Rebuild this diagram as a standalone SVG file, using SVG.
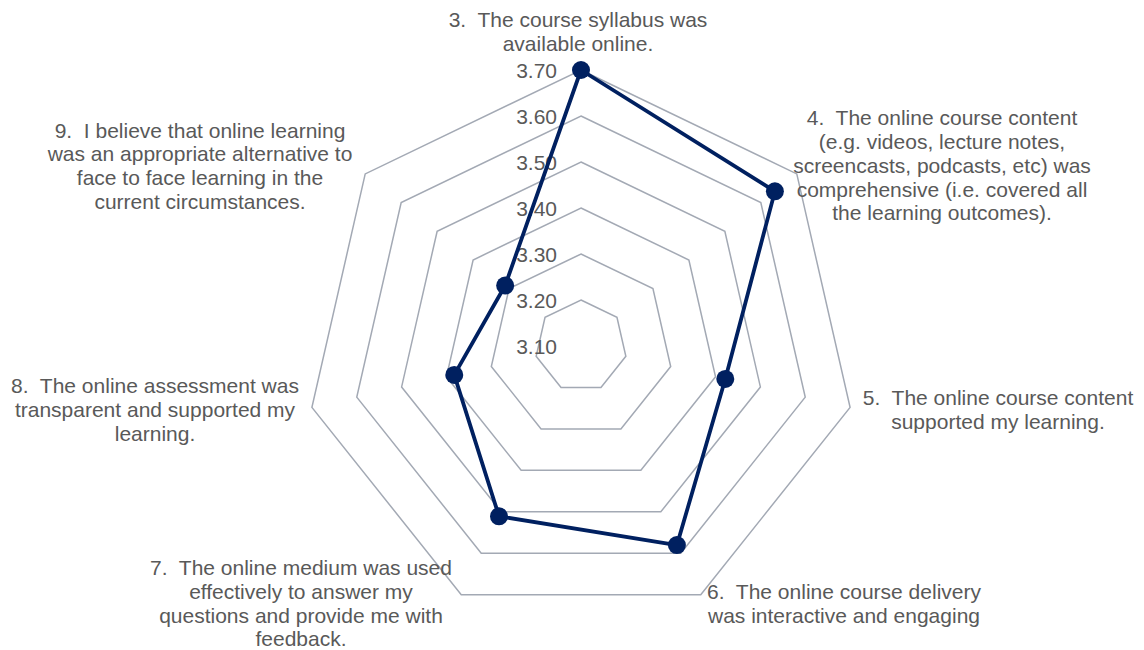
<svg xmlns="http://www.w3.org/2000/svg" width="1144" height="650" viewBox="0 0 1144 650">
<style>
.grid{fill:none;stroke:#a3a9b4;stroke-width:1.5;stroke-linejoin:miter}
.series{fill:none;stroke:#002060;stroke-width:3.8;stroke-linejoin:round}
.dot{fill:#002060}
.lbl{font-family:"Liberation Sans",Arial,sans-serif;font-size:21px;fill:#595959;text-anchor:middle}
.tick{font-family:"Liberation Sans",Arial,sans-serif;font-size:21px;fill:#595959;text-anchor:end}
</style>
<rect width="1144" height="650" fill="#ffffff"/>
<g id="grid">
<polygon class="grid" points="581,300 616.96,317.32 625.85,356.24 600.96,387.44 561.04,387.44 536.15,356.24 545.04,317.32"/>
<polygon class="grid" points="581,254 652.93,288.64 670.69,366.47 620.92,428.89 541.08,428.89 491.31,366.47 509.07,288.64"/>
<polygon class="grid" points="581,208 688.89,259.96 715.54,376.71 640.88,470.33 521.12,470.33 446.46,376.71 473.11,259.96"/>
<polygon class="grid" points="581,162 724.86,231.28 760.39,386.94 660.83,511.78 501.17,511.78 401.61,386.94 437.14,231.28"/>
<polygon class="grid" points="581,116 760.82,202.60 805.23,397.18 680.79,553.22 481.21,553.22 356.77,397.18 401.18,202.60"/>
<polygon class="grid" points="581,70 796.79,173.92 850.08,407.42 700.75,594.67 461.25,594.67 311.92,407.42 365.21,173.92"/>
</g>
<g id="ticks">
<text class="tick" x="557" y="354">3.10</text>
<text class="tick" x="557" y="308">3.20</text>
<text class="tick" x="557" y="262">3.30</text>
<text class="tick" x="557" y="216">3.40</text>
<text class="tick" x="557" y="170">3.50</text>
<text class="tick" x="557" y="124">3.60</text>
<text class="tick" x="557" y="78">3.70</text>
</g>
<g id="connectors">
<polygon class="series" points="581,70 774.89,191.37 725.29,378.93 676.89,545.11 499,516.28 454.26,374.93 505.16,285.52"/>
</g>
<g id="points">
<circle class="dot" cx="581" cy="70" r="9"/>
<circle class="dot" cx="774.89" cy="191.37" r="9"/>
<circle class="dot" cx="725.29" cy="378.93" r="9"/>
<circle class="dot" cx="676.89" cy="545.11" r="9"/>
<circle class="dot" cx="499" cy="516.28" r="9"/>
<circle class="dot" cx="454.26" cy="374.93" r="9"/>
<circle class="dot" cx="505.16" cy="285.52" r="9"/>
</g>
<g id="label3">
<text class="lbl" x="578" y="27" xml:space="preserve">3.  The course syllabus was</text>
<text class="lbl" x="578" y="51">available online.</text>
</g>
<g id="label4">
<text class="lbl" x="942" y="125" xml:space="preserve">4.  The online course content</text>
<text class="lbl" x="942" y="149">(e.g. videos, lecture notes,</text>
<text class="lbl" x="942" y="173">screencasts, podcasts, etc) was</text>
<text class="lbl" x="942" y="197">comprehensive (i.e. covered all</text>
<text class="lbl" x="942" y="220">the learning outcomes).</text>
</g>
<g id="label5">
<text class="lbl" x="998" y="405" xml:space="preserve">5.  The online course content</text>
<text class="lbl" x="998" y="429">supported my learning.</text>
</g>
<g id="label6">
<text class="lbl" x="844" y="599" xml:space="preserve">6.  The online course delivery</text>
<text class="lbl" x="844" y="623">was interactive and engaging</text>
</g>
<g id="label7">
<text class="lbl" x="301" y="575" xml:space="preserve">7.  The online medium was used</text>
<text class="lbl" x="301" y="599">effectively to answer my</text>
<text class="lbl" x="301" y="623">questions and provide me with</text>
<text class="lbl" x="301" y="646">feedback.</text>
</g>
<g id="label8">
<text class="lbl" x="155" y="393" xml:space="preserve">8.  The online assessment was</text>
<text class="lbl" x="155" y="417">transparent and supported my</text>
<text class="lbl" x="155" y="441">learning.</text>
</g>
<g id="label9">
<text class="lbl" x="200" y="138" xml:space="preserve">9.  I believe that online learning</text>
<text class="lbl" x="200" y="161">was an appropriate alternative to</text>
<text class="lbl" x="200" y="185">face to face learning in the</text>
<text class="lbl" x="200" y="209">current circumstances.</text>
</g>
</svg>
